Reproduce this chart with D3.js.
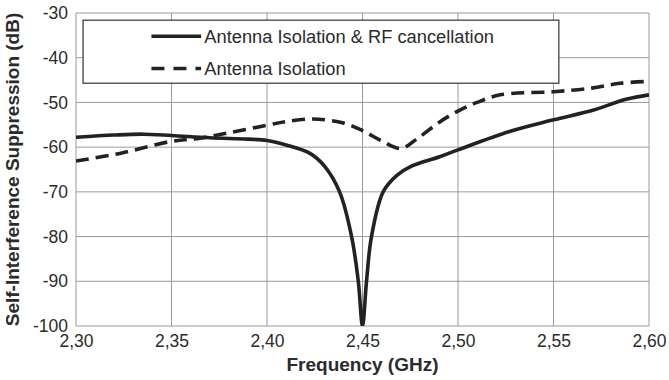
<!DOCTYPE html>
<html>
<head>
<meta charset="utf-8">
<script src="https://cdn.jsdelivr.net/npm/d3@7"></script>
<style>
  body { margin: 0; background: #fff; }
  text { font-family: "Liberation Sans", Arial, sans-serif; fill: #2b2b2b; }
</style>
</head>
<body>
<div id="chart"></div>
<script>
// Frequency (GHz) / suppression (dB)
const cancelFreq = [2.300, 2.320, 2.335, 2.350, 2.370, 2.390, 2.400, 2.410, 2.4225, 2.430, 2.438, 2.4443, 2.4478, 2.450,
    2.4521, 2.4547, 2.4608, 2.468, 2.4754, 2.490, 2.500, 2.527, 2.550, 2.571, 2.588, 2.600];
const cancelDb = [-57.8, -57.3, -57.1, -57.4, -57.9, -58.2, -58.5, -59.5, -61.4, -64.2, -70.0, -80.0, -90.0, -100,
    -90.0, -80.0, -70.0, -66.3, -64.3, -62.2, -60.6, -56.5, -53.9, -51.7, -49.3, -48.3];

const isoFreq = [2.300, 2.323, 2.350, 2.365, 2.380, 2.400, 2.410, 2.424, 2.440, 2.450, 2.460, 2.470, 2.479, 2.4906,
    2.501, 2.510, 2.522, 2.550, 2.570, 2.585, 2.600];
const isoDb = [-63.1, -61.4, -58.7, -58.0, -56.8, -55.1, -54.3, -53.7, -54.6, -56.3, -58.6, -60.3, -58.0, -54.3,
    -51.7, -50.0, -48.3, -47.6, -46.8, -45.7, -45.3];

const xTicks = [2.30, 2.35, 2.40, 2.45, 2.50, 2.55, 2.60];
const yTicks = [-100, -90, -80, -70, -60, -50, -40, -30];

const seriesNames = ["Antenna Isolation & RF cancellation", "Antenna Isolation"];

const margin = { top: 13, right: 20, bottom: 54, left: 76 };
const width = 669 - margin.left - margin.right;
const height = 380 - margin.top - margin.bottom;

const svg = d3.select("#chart").append("svg")
    .attr("width", 669)
    .attr("height", 380)
    .append("g")
    .attr("transform", `translate(${margin.left}, ${margin.top})`);

const x = d3.scaleLinear().domain([2.30, 2.60]).range([0, width]);
const y = d3.scaleLinear().domain([-100, -30]).range([height, 0]);

// grid
svg.append("g")
    .selectAll("line")
    .data(xTicks)
    .enter().append("line")
    .attr("x1", d => x(d)).attr("x2", d => x(d))
    .attr("y1", 0).attr("y2", height)
    .attr("stroke", "#9a9a9a").attr("stroke-width", 1);

svg.append("g")
    .selectAll("line")
    .data(yTicks)
    .enter().append("line")
    .attr("x1", 0).attr("x2", width)
    .attr("y1", d => y(d)).attr("y2", d => y(d))
    .attr("stroke", "#9a9a9a").attr("stroke-width", 1);

// axes (labels only), plain hyphen minus and decimal comma like the original
const xAxis = svg.append("g")
    .attr("transform", `translate(0, ${height})`)
    .call(d3.axisBottom(x).tickValues(xTicks).tickFormat(d => d.toFixed(2).replace(".", ",")).tickSize(0).tickPadding(9));
const yAxis = svg.append("g")
    .call(d3.axisLeft(y).tickValues(yTicks).tickFormat(d => String(d)).tickSize(0).tickPadding(8));
[xAxis, yAxis].forEach(a => {
    a.select(".domain").remove();
    a.selectAll("text").style("font-size", "17.5px").style("font-family", "Liberation Sans, Arial, sans-serif").attr("fill", "#2b2b2b");
});

svg.append("text")
    .attr("x", width / 2)
    .attr("y", height + 45)
    .attr("text-anchor", "middle")
    .style("font-size", "19px")
    .style("font-weight", "bold")
    .text("Frequency (GHz)");

svg.append("text")
    .attr("transform", `translate(${-57}, ${height / 2}) rotate(-90)`)
    .attr("text-anchor", "middle")
    .style("font-size", "19px")
    .style("font-weight", "bold")
    .text("Self-Interference Suppression (dB)");

// legend box
const legend = svg.append("g");
legend.append("rect")
    .attr("x", x(2.3037)).attr("y", y(-31.6))
    .attr("width", x(2.5528) - x(2.3037))
    .attr("height", y(-45.7) - y(-31.6))
    .attr("fill", "#fff")
    .attr("stroke", "#333").attr("stroke-width", 1.2);

const legendRows = [
    { name: seriesNames[0], dash: null, yv: -35.2 },
    { name: seriesNames[1], dash: "13,9", yv: -42.4 }
];
legendRows.forEach(r => {
    legend.append("line")
    .attr("x1", x(2.3395)).attr("x2", x(2.3655))
    .attr("y1", y(r.yv)).attr("y2", y(r.yv))
    .attr("stroke", "#222").attr("stroke-width", 3.6)
    .attr("stroke-dasharray", r.dash);
    legend.append("text")
    .attr("x", x(2.3672))
    .attr("y", y(r.yv))
    .attr("dy", "0.35em")
    .style("font-size", "18.3px")
    .text(r.name);
});

// curves
svg.append("clipPath").attr("id", "clip")
    .append("rect").attr("x", 0).attr("y", -5).attr("width", width).attr("height", height + 5);

const line = d3.line()
    .x(d => x(d[0]))
    .y(d => y(d[1]))
    .curve(d3.curveCatmullRom.alpha(0.5));

svg.append("path")
    .datum(isoFreq.map((f, i) => [f, isoDb[i]]))
    .attr("clip-path", "url(#clip)")
    .attr("fill", "none")
    .attr("stroke", "#222")
    .attr("stroke-width", 3.6)
    .attr("stroke-dasharray", "13,7")
    .attr("d", line);

svg.append("path")
    .datum(cancelFreq.map((f, i) => [f, cancelDb[i]]))
    .attr("clip-path", "url(#clip)")
    .attr("fill", "none")
    .attr("stroke", "#222")
    .attr("stroke-width", 3.6)
    .attr("d", line);
</script>
</body>
</html>
